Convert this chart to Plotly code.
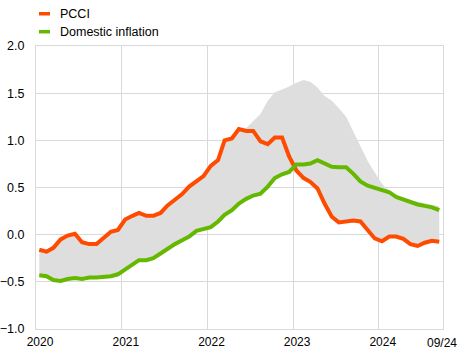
import pandas as pd
import plotly.graph_objects as go

# ---- data (monthly, Jan 2020 - Sep 2024), percentage points ----
start_month = "2020-01-01"
n_months = 57

pcci = [-0.16, -0.18, -0.14, -0.05, -0.01, 0.01, -0.08, -0.10, -0.10, -0.04, 0.03, 0.05,
        0.16, 0.20, 0.23, 0.20, 0.20, 0.23, 0.31, 0.37, 0.43, 0.51, 0.56, 0.62,
        0.73, 0.79, 1.00, 1.02, 1.12, 1.10, 1.10, 0.99, 0.96, 1.03, 1.03, 0.83,
        0.68, 0.60, 0.56, 0.49, 0.33, 0.19, 0.13, 0.145, 0.15, 0.14, 0.05, -0.04,
        -0.07, -0.02, -0.02, -0.045, -0.10, -0.12, -0.085, -0.065, -0.075]

domestic = [-0.43, -0.44, -0.48, -0.49, -0.47, -0.46, -0.47, -0.455, -0.455, -0.45, -0.44, -0.42,
            -0.37, -0.32, -0.27, -0.27, -0.25, -0.20, -0.15, -0.10, -0.06, -0.02, 0.04, 0.06,
            0.08, 0.14, 0.21, 0.26, 0.33, 0.38, 0.415, 0.435, 0.51, 0.60, 0.64, 0.665,
            0.745, 0.745, 0.755, 0.79, 0.75, 0.72, 0.715, 0.715, 0.645, 0.565, 0.52, 0.495,
            0.48, 0.45, 0.40, 0.37, 0.345, 0.32, 0.305, 0.29, 0.26]

band_low = [-0.43, -0.44, -0.48, -0.49, -0.47, -0.46, -0.47, -0.455, -0.455, -0.45, -0.44, -0.42,
            -0.37, -0.32, -0.27, -0.27, -0.25, -0.20, -0.15, -0.10, -0.06, -0.02, 0.04, 0.06,
            0.08, 0.14, 0.21, 0.26, 0.33, 0.38, 0.415, 0.435, 0.51, 0.60, 0.64, 0.665,
            0.68, 0.60, 0.56, 0.49, 0.33, 0.19, 0.13, 0.145, 0.15, 0.14, 0.05, -0.04,
            -0.07, -0.02, -0.02, -0.045, -0.10, -0.12, -0.085, -0.065, -0.075]

band_high = [-0.16, -0.18, -0.14, -0.05, -0.01, 0.01, -0.08, -0.10, -0.10, -0.04, 0.03, 0.05,
             0.16, 0.20, 0.23, 0.20, 0.20, 0.23, 0.31, 0.37, 0.43, 0.51, 0.56, 0.62,
             0.73, 0.79, 1.00, 1.02, 1.12, 1.13, 1.20, 1.28, 1.42, 1.51, 1.54, 1.57,
             1.61, 1.64, 1.62, 1.56, 1.47, 1.42, 1.34, 1.25, 1.09, 0.93, 0.78, 0.66,
             0.54, 0.46, 0.41, 0.38, 0.36, 0.35, 0.335, 0.32, 0.30]

year_ticks = ["2020-01-01", "2021-01-01", "2022-01-01", "2023-01-01", "2024-01-01"]
year_labels = ["2020", "2021", "2022", "2023", "2024"]
last_label = "09/24"
y_ticks = [-1.0, -0.5, 0.0, 0.5, 1.0, 1.5, 2.0]

series_names = ["PCCI", "Domestic inflation"]
series_colors = ["#FF4B00", "#65B800"]

# ---- figure ----
dates = pd.date_range(start_month, periods=n_months, freq="MS") + pd.Timedelta(days=14)

FONT = "Arial, Liberation Sans, sans-serif"
GRID = "#D9D9D9"

fig = go.Figure()
fig.add_trace(go.Scatter(x=dates, y=band_low, mode="lines", line=dict(width=0),
                         showlegend=False, hoverinfo="skip"))
fig.add_trace(go.Scatter(x=dates, y=band_high, mode="lines", line=dict(width=0),
                         fill="tonexty", fillcolor="#DEDEDE",
                         showlegend=False, hoverinfo="skip"))
fig.add_trace(go.Scatter(x=dates, y=pcci, mode="lines", name=series_names[0],
                         line=dict(color=series_colors[0], width=4), showlegend=False))
fig.add_trace(go.Scatter(x=dates, y=domestic, mode="lines", name=series_names[1],
                         line=dict(color=series_colors[1], width=4), showlegend=False))

# custom legend (short line symbols)
leg_y = [1.114, 1.0505]
for name, color, yy in zip(series_names, series_colors, leg_y):
    fig.add_shape(type="line", xref="paper", yref="paper",
                  x0=0.0074, x1=0.0344, y0=yy, y1=yy,
                  line=dict(color=color, width=3.5))
    fig.add_annotation(xref="paper", yref="paper", x=0.0572, y=yy,
                       xanchor="left", yanchor="middle", text=name, showarrow=False,
                       font=dict(family=FONT, size=12.5, color="#000000"),
                       borderpad=0)

# last-date label
fig.add_annotation(xref="paper", yref="paper", x=0.9968, y=0, yshift=-14,
                   xanchor="center", yanchor="middle", text=last_label, showarrow=False,
                   font=dict(family=FONT, size=12, color="#000000"), borderpad=0)

fig.update_layout(
    width=473, height=354,
    margin=dict(l=36, r=30, t=46, b=25, autoexpand=False),
    paper_bgcolor="white", plot_bgcolor="white",
    font=dict(family=FONT, size=12, color="#000000"),
    showlegend=False,
)
fig.update_xaxes(
    type="date", range=["2020-01-01", "2024-10-01"], automargin=False,
    tickvals=year_ticks, ticktext=year_labels, ticklabelshift=4, ticklabelstandoff=2,
    showgrid=True, gridcolor=GRID, gridwidth=1,
    showline=True, linecolor=GRID, linewidth=1, mirror=True,
    ticks="", tickfont=dict(family=FONT, size=12, color="#000000"),
    zeroline=False,
)
fig.update_yaxes(
    range=[-1, 2], tickvals=y_ticks, tickformat=".1f", automargin=False,
    showgrid=True, gridcolor=GRID, gridwidth=1,
    showline=True, linecolor=GRID, linewidth=1, mirror=True,
    ticks="", ticklabelstandoff=8,
    tickfont=dict(family=FONT, size=12.5, color="#000000"),
    zeroline=False,
)

fig.write_html("out.html")
